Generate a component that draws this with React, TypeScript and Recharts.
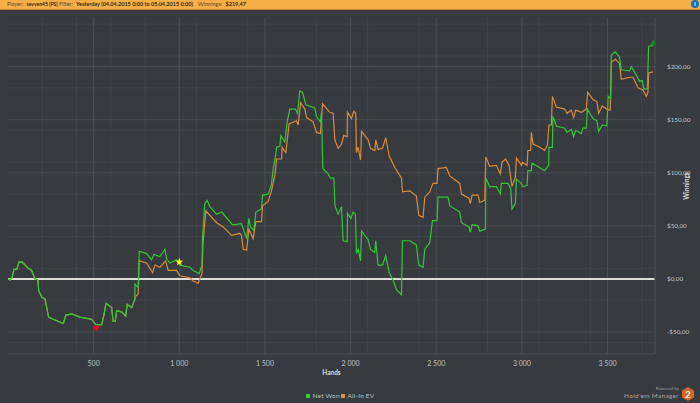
import { CartesianGrid, Label, Line, LineChart, ReferenceDot, ReferenceLine, XAxis, YAxis } from 'recharts';

const netHands = [0, 12, 23, 35, 51, 64, 82, 118, 138, 158, 175, 179, 197, 216, 226, 237, 264, 323, 338, 372, 420, 488, 513, 547, 560, 572, 605, 614, 626, 634, 663, 687, 696, 722, 741, 741, 760, 766, 809, 838, 852, 887, 916, 926, 945, 984, 1003, 1062, 1081, 1116, 1132, 1136, 1149, 1163, 1178, 1218, 1247, 1305, 1314, 1363, 1393, 1406, 1416, 1435, 1447, 1480, 1486, 1519, 1538, 1548, 1562, 1568, 1587, 1593, 1616, 1630, 1645, 1678, 1690, 1703, 1719, 1739, 1791, 1801, 1824, 1830, 1838, 1869, 1883, 1902, 1909, 1927, 1947, 1956, 1980, 1982, 2001, 2015, 2028, 2034, 2044, 2058, 2064, 2102, 2116, 2141, 2147, 2160, 2186, 2205, 2225, 2248, 2268, 2297, 2303, 2345, 2384, 2398, 2423, 2433, 2462, 2478, 2505, 2510, 2540, 2569, 2579, 2637, 2647, 2691, 2699, 2709, 2744, 2754, 2787, 2789, 2812, 2851, 2874, 2880, 2919, 2935, 2942, 2962, 2968, 2997, 3003, 3030, 3035, 3055, 3059, 3094, 3133, 3156, 3158, 3178, 3181, 3201, 3250, 3263, 3289, 3302, 3314, 3347, 3356, 3376, 3382, 3415, 3438, 3448, 3469, 3496, 3504, 3518, 3522, 3545, 3570, 3580, 3629, 3639, 3668, 3687, 3702, 3712, 3732, 3740, 3765];
const netWon = [0, -1, 1, 9, 9, 16, 16, 10, 8, 0, -1, -11, -17, -19, -27, -36, -38, -42, -34, -33, -36, -38, -43, -43, -34, -23, -27, -40, -40, -30, -31, -35, -24, -27, -19, -5, -8, 26, 24, 18, 23, 21, 28, 19, 15, 18, 13, 11, 8, 5, 13, 41, 71, 74, 68, 61, 63, 52, 51, 52, 38, 57, 49, 46, 63, 66, 79, 80, 89, 104, 116, 124, 125, 135, 129, 148, 160, 160, 156, 177, 176, 164, 161, 153, 148, 157, 104, 99, 95, 95, 69, 61, 68, 36, 35, 62, 57, 63, 61, 24, 28, 17, 45, 37, 28, 25, 36, 13, 13, 22, 6, -1, -10, -15, 36, 36, 32, 13, 11, 28, 34, 55, 55, 77, 77, 77, 69, 63, 53, 49, 44, 51, 50, 45, 47, 95, 87, 87, 80, 90, 90, 85, 66, 71, 94, 90, 87, 88, 102, 102, 109, 106, 102, 107, 124, 124, 153, 144, 142, 138, 141, 134, 140, 137, 142, 142, 160, 151, 149, 139, 145, 144, 172, 170, 211, 214, 209, 197, 196, 200, 192, 186, 187, 179, 179, 219, 220];

// EV matches net won until the first all-in, around hand 741
const sharedPoints = 35;
const evHandsAfter = [741, 760, 766, 809, 844, 858, 887, 920, 935, 984, 1003, 1062, 1081, 1110, 1132, 1139, 1155, 1218, 1256, 1305, 1353, 1363, 1373, 1393, 1406, 1431, 1447, 1480, 1486, 1519, 1538, 1558, 1568, 1597, 1600, 1622, 1641, 1684, 1694, 1708, 1733, 1743, 1781, 1801, 1824, 1836, 1879, 1898, 1908, 1927, 1947, 1960, 1980, 1982, 2005, 2019, 2030, 2034, 2044, 2058, 2064, 2102, 2116, 2141, 2147, 2160, 2186, 2205, 2225, 2258, 2297, 2303, 2345, 2384, 2398, 2423, 2433, 2462, 2481, 2505, 2510, 2559, 2579, 2637, 2647, 2691, 2699, 2709, 2744, 2754, 2783, 2789, 2812, 2851, 2874, 2884, 2905, 2925, 2942, 2962, 2968, 2997, 3003, 3030, 3035, 3051, 3055, 3065, 3104, 3133, 3149, 3158, 3172, 3178, 3201, 3250, 3263, 3289, 3302, 3314, 3347, 3376, 3384, 3415, 3438, 3448, 3469, 3496, 3516, 3522, 3545, 3570, 3580, 3629, 3649, 3678, 3707, 3726, 3736, 3740, 3765];
const evAfter = [-17, -14, 17, 15, 6, 13, 11, 17, 8, 8, 3, 1, -2, -4, 5, 35, 64, 53, 49, 41, 43, 41, 28, 27, 47, 38, 54, 54, 69, 73, 83, 98, 113, 113, 124, 119, 146, 149, 145, 166, 160, 152, 148, 138, 137, 165, 157, 156, 131, 123, 127, 135, 134, 157, 151, 158, 156, 119, 124, 112, 139, 131, 123, 121, 131, 122, 123, 133, 116, 105, 95, 82, 83, 78, 60, 58, 77, 82, 90, 90, 104, 105, 97, 90, 80, 76, 71, 79, 79, 72, 74, 115, 106, 107, 99, 110, 113, 107, 87, 96, 114, 107, 110, 107, 121, 121, 138, 127, 124, 121, 126, 145, 145, 172, 162, 160, 156, 159, 152, 159, 157, 160, 176, 169, 167, 156, 163, 160, 159, 204, 207, 203, 188, 190, 190, 180, 178, 172, 176, 194, 195];

const xTicks = [500, 1000, 1500, 2000, 2500, 3000, 3500];
const xMinor = [100, 200, 300, 400, 600, 700, 800, 900, 1100, 1200, 1300, 1400, 1600, 1700, 1800, 1900, 2100, 2200, 2300, 2400, 2600, 2700, 2800, 2900, 3100, 3200, 3300, 3400, 3600, 3700];
const yTicks = [-50, 0, 50, 100, 150, 200];
const yMinor = [-60, -40, -30, -20, -10, 10, 20, 30, 40, 60, 70, 80, 90, 110, 120, 130, 140, 160, 170, 180, 190, 210, 220, 230, 240];

const lowMark = { hand: 516, value: -47 };
const starMark = { hand: 1000, value: 16 };
const endMark = { hand: 3765, value: 223 };

const netData = netHands.map((hand, i) => ({ hand, value: netWon[i] }));
const evData = [
  ...netData.slice(0, sharedPoints),
  ...evHandsAfter.map((hand, i) => ({ hand, value: evAfter[i] })),
];

const FONT = 'Lato, sans-serif';
const TEXT = '#c0c3c4';

const formatHands = (v: number) => (v >= 1000 ? `${Math.floor(v / 1000)} ${String(v % 1000).padStart(3, '0')}` : `${v}`);
const formatMoney = (v: number) => `${v < 0 ? '-' : ''}$${Math.abs(v)},00`;

const headerParts: [string, number, number, boolean][] = [
  ['Player:', 7, 5.5, false],
  ['sevven45 (PS)', 26.5, 5, true],
  ['Filter:', 59, 5.5, false],
  ['Yesterday (04.04.2015 0:00 to 05.04.2015 0:00)', 76, 5.5, true],
  ['Winnings:', 198, 5.5, false],
  ['$219,47', 225.5, 5.5, true],
];

const legendItems: [string, string, number][] = [
  ['Net Won', '#2fd12f', 306],
  ['All-In EV', '#e8922f', 341],
];

function TriangleDown({ cx, cy }: any) {
  return <path d={`M${cx - 4} ${cy - 3}L${cx + 4} ${cy - 3}L${cx} ${cy + 3}Z`} fill="#e0101a" />;
}

function Star({ cx, cy }: any) {
  const d = [];
  for (let i = 0; i < 10; i++) {
    const r = i % 2 ? 1.7 : 4;
    const a = (Math.PI / 5) * i - Math.PI / 2;
    d.push(`${i ? 'L' : 'M'}${cx + r * Math.cos(a)} ${cy + r * Math.sin(a)}`);
  }
  return <path d={d.join('') + 'Z'} fill="#ffee22" />;
}

function TriangleUp({ cx, cy }: any) {
  return <path d={`M${cx - 3} ${cy + 3}L${cx + 3} ${cy + 3}L${cx + 1} ${cy - 3}Z`} fill="#0d8a1c" />;
}

export default function App() {
  return (
    <div style={{ position: 'fixed', left: 0, top: 0, width: 700, height: 403, background: '#373b3f', overflow: 'hidden', fontFamily: FONT }}>
      <div style={{ position: 'absolute', left: 0, top: 0, width: 700, height: 9, background: '#f6ae47', borderBottom: '1px solid #b98336' }}>
        {headerParts.map(([text, left, size, bold]) => (
          <span key={text} style={{ position: 'absolute', left, top: 0, fontSize: size, lineHeight: '9px', whiteSpace: 'nowrap', fontWeight: bold ? 700 : 400, color: bold ? '#33291a' : '#5a4a2c' }}>
            {text}
          </span>
        ))}
        <div style={{ position: 'absolute', left: 691, top: 0, width: 8, height: 8, borderRadius: 4, background: '#1f6fb5', color: '#fff', fontSize: 6, lineHeight: '8px', textAlign: 'center', fontWeight: 700 }}>i</div>
      </div>

      <LineChart
        width={700}
        height={403}
        margin={{ top: 18, right: 0, bottom: 0, left: 8 }}
        style={{ position: 'absolute', left: 0, top: 0 }}
      >
        <CartesianGrid stroke="#404448" strokeWidth={1} verticalValues={xMinor} horizontalValues={yMinor} />
        <CartesianGrid stroke="#4a4e52" strokeWidth={1} verticalValues={xTicks} horizontalValues={yTicks} />
        <XAxis
          type="number"
          dataKey="hand"
          domain={[0, 3777]}
          ticks={xTicks}
          tickFormatter={formatHands}
          allowDataOverflow
          axisLine={{ stroke: '#4f5357' }}
          tickLine={false}
          tickMargin={1}
          tick={{ fontSize: 7, fill: TEXT, fontFamily: FONT }}
          height={49}
        >
          <Label value="Hands" position="insideTop" offset={16} style={{ fontSize: 6.5, fontWeight: 700, fill: '#dcdedf', fontFamily: FONT }} />
        </XAxis>
        <YAxis
          type="number"
          orientation="right"
          domain={[-70.7, 245.8]}
          ticks={yTicks}
          tickFormatter={formatMoney}
          allowDataOverflow
          axisLine={{ stroke: '#4f5357' }}
          tickLine={false}
          tickMargin={6}
          tick={{ fontSize: 6.3, fill: TEXT, fontFamily: FONT, textAnchor: 'start' }}
          width={45}
        >
          <Label value="Winnings" angle={-90} position="insideRight" offset={13} style={{ fontSize: 6.5, fontWeight: 700, fill: '#dcdedf', fontFamily: FONT, textAnchor: 'middle' }} />
        </YAxis>
        <ReferenceLine y={0} stroke="#dcdcda" strokeWidth={2} />
        <Line data={evData} dataKey="value" name="All-In EV" type="linear" stroke="#d98b3c" strokeWidth={1.2} dot={false} isAnimationActive={false} />
        <Line data={netData} dataKey="value" name="Net Won" type="linear" stroke="#34c636" strokeWidth={1.2} dot={false} isAnimationActive={false} />
        <ReferenceDot x={lowMark.hand} y={lowMark.value} shape={TriangleDown} />
        <ReferenceDot x={starMark.hand} y={starMark.value} shape={Star} />
        <ReferenceDot x={endMark.hand} y={endMark.value} shape={TriangleUp} />
      </LineChart>

      {legendItems.map(([text, color, left]) => (
        <div key={text} style={{ position: 'absolute', left, top: 392, height: 8, fontSize: 6.5, lineHeight: '8px', letterSpacing: 0.2, color: TEXT, whiteSpace: 'nowrap' }}>
          <span style={{ display: 'inline-block', width: 4, height: 4, background: color, marginRight: 2.5, verticalAlign: 0.5 }} />
          {text}
        </div>
      ))}

      <div style={{ position: 'absolute', right: 21, top: 386, fontSize: 4.5, lineHeight: '6px', color: '#9a9da0' }}>Powered by</div>
      <div style={{ position: 'absolute', right: 21, top: 391, fontSize: 6.3, lineHeight: '9px', letterSpacing: 0.4, color: '#a6a9ab' }}>Hold'em Manager</div>
      <svg width={14} height={14} style={{ position: 'absolute', left: 681, top: 387 }}>
        <path d="M7 0L13 3.5L13 10.5L7 14L1 10.5L1 3.5Z" fill="#d0662a" />
        <text x={7} y={10.5} textAnchor="middle" fontSize={10} fontWeight={700} fill="#f3ede4" fontFamily={FONT}>2</text>
      </svg>
    </div>
  );
}
